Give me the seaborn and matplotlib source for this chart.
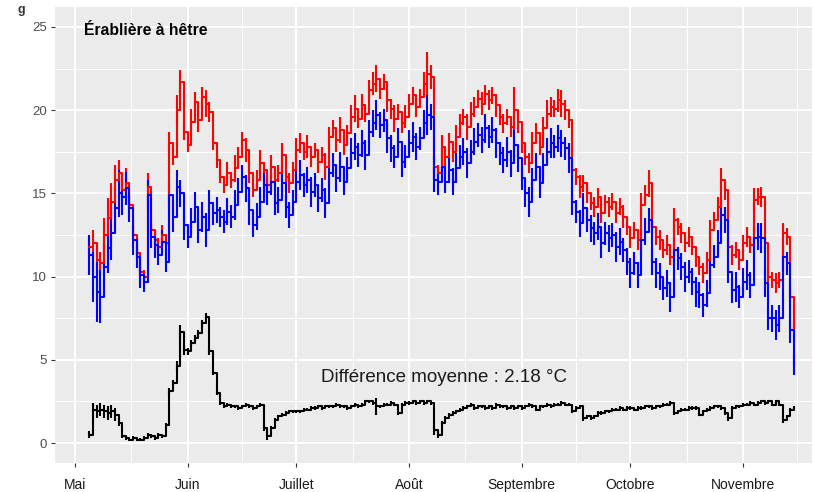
import matplotlib
matplotlib.use("Agg")
import matplotlib.pyplot as plt
import pandas as pd
import seaborn as sns

# Daily series, 5 May to 15 November
days = pd.date_range("2021-05-05", "2021-11-15", freq="D")

# Open-site daily mean temperature (°C)
red = [11.8, 12.0, 11.0, 10.8, 12.5, 13.5, 14.5, 15.8, 16.2, 15.2,
       15.6, 14.3, 12.5, 11.4, 10.3, 10.0, 15.4, 12.8, 12.2, 11.8,
       12.5, 12.0, 18.0, 17.2, 20.0, 21.7, 18.7, 17.9, 19.3, 20.5,
       19.4, 20.8, 20.4, 19.9, 18.0, 17.0, 16.0, 15.5, 16.2, 15.8,
       16.5, 17.2, 18.2, 17.6, 16.2, 15.2, 15.8, 16.8, 16.4, 15.5,
       16.6, 15.8, 16.2, 17.3, 16.0, 15.6, 16.4, 17.6, 18.0, 17.5,
       17.8, 17.2, 17.6, 16.9, 17.3, 16.6, 18.4, 18.9, 18.2, 18.8,
       17.9, 18.6, 19.6, 20.1, 19.5, 20.3, 19.8, 21.2, 21.6, 21.9,
       21.3, 21.7, 20.6, 20.1, 19.5, 19.9, 19.2, 19.6, 20.4, 20.9,
       20.2, 20.8, 21.6, 22.2, 22.0, 16.6, 16.2, 17.8, 17.2, 18.1,
       17.5, 18.4, 19.2, 19.6, 19.0, 19.8, 20.2, 20.7, 20.4, 21.0,
       20.6, 20.9, 20.3, 19.6, 19.2, 19.6, 19.0, 20.0, 19.3, 18.0,
       17.2, 16.8, 18.0, 18.6, 17.8, 18.9, 19.8, 20.2, 20.1, 20.6,
       20.4, 20.0, 19.4, 16.4, 16.0, 15.4, 15.6, 15.0, 14.4, 14.2,
       14.8, 13.8, 14.5, 14.2, 14.5, 13.8, 14.2, 13.6, 13.0, 12.3,
       12.8, 12.2, 14.3, 14.9, 15.6, 13.0, 12.4, 12.2, 11.6, 11.9,
       11.2, 13.4, 13.0, 12.6, 12.0, 12.4, 11.8, 11.2, 10.6, 10.2,
       11.0, 12.8, 13.4, 14.2, 15.8, 15.2, 11.8, 11.3, 11.6, 11.0,
       12.0, 12.4, 11.9, 14.6, 14.8, 14.8, 12.0, 10.0, 9.8, 9.6,
       9.8, 12.6, 12.4, 8.8, 6.8]

# Under-canopy daily mean temperature (°C)
blue = [11.3, 10.0, 9.1, 8.8, 10.6, 11.7, 12.6, 14.1, 15.0, 14.8,
        15.3, 14.1, 12.2, 11.2, 10.1, 9.7, 14.9, 12.4, 11.9, 11.3,
        12.1, 10.9, 14.9, 13.6, 15.4, 15.0, 13.1, 12.4, 13.3, 14.2,
        12.8, 13.6, 12.8, 14.4, 13.8, 14.0, 13.6, 13.3, 13.9, 13.6,
        14.3, 15.1, 16.0, 15.3, 14.0, 13.1, 13.6, 14.5, 15.5, 15.1,
        15.7, 14.4, 14.6, 15.6, 14.2, 13.7, 14.5, 15.7, 16.1, 15.5,
        15.8, 15.1, 15.5, 14.7, 15.2, 14.4, 16.2, 16.7, 15.9, 16.6,
        15.7, 16.5, 17.4, 17.8, 17.3, 18.0, 17.3, 18.7, 19.2, 19.7,
        19.1, 19.4, 18.3, 17.7, 17.2, 18.1, 16.9, 17.2, 18.0, 18.4,
        17.8, 18.3, 19.2, 19.7, 19.6, 15.8, 15.7, 16.6, 15.7, 16.4,
        15.7, 16.5, 17.2, 17.5, 16.8, 17.5, 18.1, 18.5, 18.2, 18.9,
        18.4, 18.8, 18.0, 17.4, 17.0, 17.5, 16.8, 17.9, 17.1, 15.9,
        15.0, 14.5, 15.8, 16.6, 15.6, 16.7, 17.5, 18.0, 17.8, 18.3,
        18.0, 17.7, 17.1, 14.5, 13.9, 13.2, 14.1, 13.4, 12.9, 12.6,
        13.0, 12.0, 12.6, 12.3, 12.5, 11.8, 12.1, 11.6, 10.9, 10.2,
        10.8, 10.1, 12.2, 12.7, 13.4, 10.9, 10.2, 10.0, 9.3, 9.6,
        8.8, 11.6, 11.1, 10.6, 10.0, 10.3, 9.7, 9.1, 8.9, 8.3,
        9.0, 10.7, 11.2, 12.0, 13.7, 13.4, 10.3, 9.2, 9.4, 8.8,
        9.7, 10.1, 9.5, 12.3, 12.4, 12.3, 9.6, 7.5, 7.5, 7.1,
        7.5, 11.2, 10.8, 6.8, 4.7]

# Daily difference between the two sites (°C)
diff = [0.5, 2.0, 1.9, 2.0, 1.9, 1.8, 1.9, 1.7, 1.2, 0.4,
        0.3, 0.2, 0.3, 0.2, 0.2, 0.3, 0.5, 0.4, 0.3, 0.5,
        0.4, 1.1, 3.1, 3.6, 4.6, 6.7, 5.6, 5.5, 6.0, 6.3,
        6.6, 7.2, 7.6, 5.5, 4.2, 3.0, 2.4, 2.2, 2.3, 2.2,
        2.2, 2.1, 2.2, 2.3, 2.2, 2.1, 2.2, 2.3, 0.9, 0.4,
        0.9, 1.4, 1.6, 1.7, 1.8, 1.9, 1.9, 1.9, 1.9, 2.0,
        2.0, 2.1, 2.1, 2.2, 2.1, 2.2, 2.2, 2.2, 2.3, 2.2,
        2.2, 2.1, 2.2, 2.3, 2.2, 2.3, 2.5, 2.5, 2.4, 2.2,
        2.2, 2.3, 2.3, 2.4, 2.3, 1.8, 2.3, 2.4, 2.4, 2.5,
        2.4, 2.5, 2.4, 2.5, 2.4, 0.8, 0.5, 1.2, 1.5, 1.7,
        1.8, 1.9, 2.0, 2.1, 2.2, 2.3, 2.1, 2.2, 2.2, 2.1,
        2.2, 2.1, 2.3, 2.2, 2.2, 2.1, 2.2, 2.1, 2.2, 2.1,
        2.2, 2.3, 2.2, 2.0, 2.2, 2.2, 2.3, 2.2, 2.3, 2.3,
        2.4, 2.3, 2.3, 1.9, 2.1, 2.2, 1.5, 1.6, 1.5, 1.6,
        1.8, 1.8, 1.9, 1.9, 2.0, 2.0, 2.1, 2.0, 2.1, 2.1,
        2.0, 2.1, 2.1, 2.2, 2.2, 2.1, 2.2, 2.2, 2.3, 2.3,
        2.4, 1.8, 1.9, 2.0, 2.0, 2.1, 2.1, 2.1, 1.7, 1.9,
        2.0, 2.1, 2.2, 2.2, 2.1, 1.8, 1.5, 2.1, 2.2, 2.2,
        2.3, 2.3, 2.4, 2.3, 2.4, 2.5, 2.4, 2.5, 2.3, 2.5,
        2.3, 1.4, 1.6, 2.0, 2.1]

# Half-range of the daily spread around each value (°C)
red_err = [0.6, 0.8, 0.9, 0.7, 1.0, 1.2, 1.1, 0.9, 0.8, 0.7,
           0.9, 0.7, 0.6, 0.5, 0.6, 0.4, 0.8, 0.5, 0.6, 0.5,
           0.6, 0.5, 0.7, 0.5, 0.9, 0.7, 0.5, 0.4, 0.8, 0.6,
           0.7, 0.6, 0.8, 0.6, 0.4, 0.5, 0.4, 0.5, 0.7, 0.5,
           0.8, 0.6, 0.5, 0.7, 0.6, 0.4, 0.6, 0.8, 0.5, 0.6,
           0.7, 0.6, 0.5, 0.7, 0.4, 0.6, 0.5, 0.7, 0.6, 0.5,
           0.7, 0.6, 0.4, 0.7, 0.5, 0.8, 0.6, 0.5, 0.7, 0.8,
           0.6, 0.5, 0.7, 0.8, 0.6, 0.7, 0.5, 0.6, 0.7, 0.8,
           0.6, 0.5, 0.7, 0.6, 0.8, 0.5, 0.6, 0.7, 0.6, 0.5,
           0.6, 0.5, 0.7, 1.3, 0.7, 0.6, 0.5, 0.7, 0.6, 0.5,
           0.6, 0.7, 0.6, 0.5, 0.8, 0.7, 0.6, 0.5, 0.7, 0.5,
           0.6, 0.5, 0.7, 0.5, 0.6, 0.5, 0.6, 1.4, 0.7, 0.6,
           0.5, 0.6, 0.7, 0.6, 0.5, 0.7, 0.8, 0.6, 0.5, 0.7,
           0.8, 0.6, 0.5, 0.6, 0.5, 0.7, 0.5, 0.6, 0.4, 0.6,
           0.5, 0.6, 0.4, 0.6, 0.5, 0.6, 0.5, 0.7, 0.5, 0.6,
           0.5, 0.6, 0.7, 0.6, 0.8, 0.6, 0.5, 0.6, 0.5, 0.6,
           0.5, 0.7, 0.5, 0.6, 0.5, 0.6, 0.5, 0.6, 0.5, 0.6,
           0.5, 0.6, 0.5, 0.6, 0.7, 0.6, 0.5, 0.6, 0.5, 0.6,
           0.5, 0.6, 0.5, 0.7, 0.5, 0.6, 0.5, 0.6, 0.5, 0.6,
           0.5, 0.6, 0.5, 0.7, 0.5]

blue_err = [1.2, 1.5, 1.8, 1.6, 1.4, 1.5, 1.6, 1.3, 1.4, 1.1,
            1.0, 0.8, 0.9, 0.7, 0.8, 0.6, 0.9, 0.7, 0.8, 0.6,
            0.7, 0.6, 0.8, 0.9, 1.0, 0.8, 0.9, 0.7, 0.8, 0.9,
            0.8, 0.9, 1.0, 0.8, 0.7, 0.8, 0.6, 0.7, 0.8, 0.7,
            0.9, 0.8, 0.7, 0.8, 0.9, 0.7, 0.8, 0.9, 0.7, 0.8,
            0.8, 0.7, 0.8, 0.9, 0.7, 0.8, 0.7, 0.8, 0.9, 0.7,
            0.8, 0.9, 0.7, 0.8, 0.7, 0.9, 0.8, 0.7, 0.8, 0.9,
            0.8, 0.7, 0.9, 0.8, 0.7, 0.8, 0.9, 0.7, 0.8, 0.9,
            0.8, 0.7, 0.9, 0.8, 0.7, 0.8, 0.9, 0.7, 0.8, 0.9,
            0.8, 0.7, 0.8, 1.2, 0.8, 0.7, 0.8, 0.9, 0.7, 0.8,
            0.8, 0.9, 0.7, 0.8, 0.9, 0.7, 0.8, 0.7, 0.8, 0.9,
            0.7, 0.8, 0.9, 0.7, 0.8, 0.9, 0.8, 0.9, 0.8, 0.7,
            0.8, 0.9, 0.7, 0.8, 0.9, 0.7, 0.8, 0.9, 0.7, 0.8,
            0.8, 0.7, 0.9, 0.8, 0.7, 0.8, 0.9, 0.7, 0.8, 0.7,
            0.8, 0.9, 0.7, 0.8, 0.7, 0.9, 0.8, 0.7, 0.8, 0.9,
            0.7, 0.8, 0.9, 0.8, 0.7, 0.8, 0.9, 0.8, 0.7, 0.8,
            0.9, 0.8, 0.7, 0.8, 0.9, 0.7, 0.8, 0.9, 0.8, 0.7,
            0.8, 0.9, 0.7, 0.8, 0.9, 0.8, 0.7, 0.8, 0.9, 0.7,
            0.8, 0.9, 0.8, 0.7, 0.8, 0.9, 0.8, 0.7, 0.8, 0.9,
            0.8, 0.9, 0.7, 0.8, 0.6]

diff_err = [0.2, 0.4, 0.4, 0.4, 0.4, 0.4, 0.4, 0.4, 0.2, 0.1,
            0.1, 0.1, 0.1, 0.1, 0.1, 0.1, 0.1, 0.1, 0.1, 0.1,
            0.1, 0.1, 0.2, 0.2, 0.3, 0.4, 0.3, 0.2, 0.2, 0.2,
            0.2, 0.2, 0.2, 0.2, 0.1, 0.1, 0.1, 0.1, 0.1, 0.1,
            0.1, 0.1, 0.1, 0.1, 0.1, 0.1, 0.1, 0.1, 0.2, 0.2,
            0.1, 0.1, 0.1, 0.1, 0.1, 0.1, 0.1, 0.1, 0.1, 0.1,
            0.1, 0.1, 0.1, 0.1, 0.1, 0.1, 0.1, 0.1, 0.1, 0.1,
            0.1, 0.1, 0.1, 0.1, 0.1, 0.1, 0.1, 0.1, 0.1, 0.5,
            0.1, 0.1, 0.1, 0.1, 0.1, 0.1, 0.1, 0.1, 0.1, 0.1,
            0.1, 0.1, 0.1, 0.1, 0.1, 0.3, 0.2, 0.1, 0.1, 0.1,
            0.1, 0.1, 0.1, 0.1, 0.1, 0.1, 0.1, 0.1, 0.1, 0.1,
            0.1, 0.1, 0.1, 0.1, 0.1, 0.1, 0.1, 0.1, 0.1, 0.1,
            0.1, 0.1, 0.1, 0.1, 0.1, 0.1, 0.1, 0.1, 0.1, 0.1,
            0.1, 0.1, 0.1, 0.1, 0.1, 0.1, 0.2, 0.1, 0.1, 0.1,
            0.1, 0.1, 0.1, 0.1, 0.1, 0.1, 0.1, 0.1, 0.1, 0.1,
            0.1, 0.1, 0.1, 0.1, 0.1, 0.1, 0.1, 0.1, 0.1, 0.1,
            0.1, 0.1, 0.1, 0.1, 0.1, 0.1, 0.1, 0.1, 0.1, 0.1,
            0.1, 0.1, 0.1, 0.1, 0.1, 0.1, 0.2, 0.1, 0.1, 0.1,
            0.1, 0.1, 0.1, 0.1, 0.1, 0.1, 0.1, 0.1, 0.1, 0.1,
            0.1, 0.2, 0.1, 0.1, 0.1]

month_starts = pd.to_datetime(["2021-05-01", "2021-06-01", "2021-07-01",
                               "2021-08-01", "2021-09-01", "2021-10-01",
                               "2021-11-01"])
month_labels = ["Mai", "Juin", "Juillet", "Août", "Septembre", "Octobre", "Novembre"]
y_ticks = [0, 5, 10, 15, 20, 25]
panel_tag = "g"
panel_title = "Érablière à hêtre"
mean_diff_label = "Différence moyenne : 2.18 °C"

series = {"Ouvert": (red, red_err, "#FF0000"),
          "Sous couvert": (blue, blue_err, "#0000FF"),
          "Différence": (diff, diff_err, "#000000")}

frames = []
for name, (vals, err, _) in series.items():
    frames.append(pd.DataFrame({"date": days, "temp": vals, "err": err, "serie": name}))
df = pd.concat(frames, ignore_index=True)
df["lo"] = df["temp"] - df["err"]
df["hi"] = df["temp"] + df["err"]

sns.set_theme(style="darkgrid", rc={
    "axes.facecolor": "#EBEBEB",
    "grid.color": "white",
    "axes.edgecolor": "#EBEBEB",
})
plt.rcParams["font.family"] = ["Liberation Sans", "DejaVu Sans"]

fig = plt.figure(figsize=(8.13, 4.92), dpi=100)
ax = fig.add_axes([55 / 813, 1 - 463 / 492, 757 / 813, 456 / 492])

palette = {k: v[2] for k, v in series.items()}

# daily spread bars
for name, sub in df.groupby("serie", sort=False):
    ax.vlines(sub["date"], sub["lo"], sub["hi"], colors=palette[name],
              linewidth=1.5, zorder=2)

# daily steps
sns.lineplot(data=df, x="date", y="temp", hue="serie", palette=palette,
             hue_order=list(series.keys()), estimator=None,
             drawstyle="steps-post", linewidth=1.5, legend=False, ax=ax, zorder=3)

# axes ranges and grid
ax.set_xlim(pd.Timestamp("2021-04-25 12:00"), pd.Timestamp("2021-11-20"))
ax.set_ylim(-1.2, 26.2)
ax.set_xticks(month_starts)
ax.set_xticklabels(month_labels)
edges = list(month_starts) + [pd.Timestamp("2021-12-01")]
ax.set_xticks([a + (b - a) / 2 for a, b in zip(edges[:-1], edges[1:])], minor=True)
ax.set_yticks(y_ticks)
ax.set_yticks([t + 2.5 for t in y_ticks[:-1]], minor=True)
ax.grid(which="major", color="white", linewidth=1.4)
ax.grid(which="minor", color="white", linewidth=0.7)
ax.set_axisbelow(True)
for s in ax.spines.values():
    s.set_visible(False)
ax.tick_params(axis="both", which="major", bottom=True, left=True, length=3,
               width=0.8, color="#333333")
ax.tick_params(axis="both", which="minor", bottom=False, left=False, length=0)
ax.tick_params(axis="x", pad=8, labelcolor="#1a1a1a", labelsize=10)
ax.tick_params(axis="y", pad=3, labelcolor="#4D4D4D", labelsize=9.5)
ax.set_xlabel("")
ax.set_ylabel("")

ax.text(0.0383, 0.9386, panel_title, transform=ax.transAxes, fontsize=11.3,
        fontweight="bold", ha="left", va="baseline", color="black")
ax.text(pd.Timestamp("2021-08-10 15:00"), 3.67, mean_diff_label, fontsize=13.5,
        ha="center", va="baseline", color="#1a1a1a")
fig.text(18 / 813, 1 - 4 / 492, panel_tag, fontsize=9, fontweight="bold",
         ha="left", va="top", color="#333333")

fig.savefig("out.png", dpi=100)
